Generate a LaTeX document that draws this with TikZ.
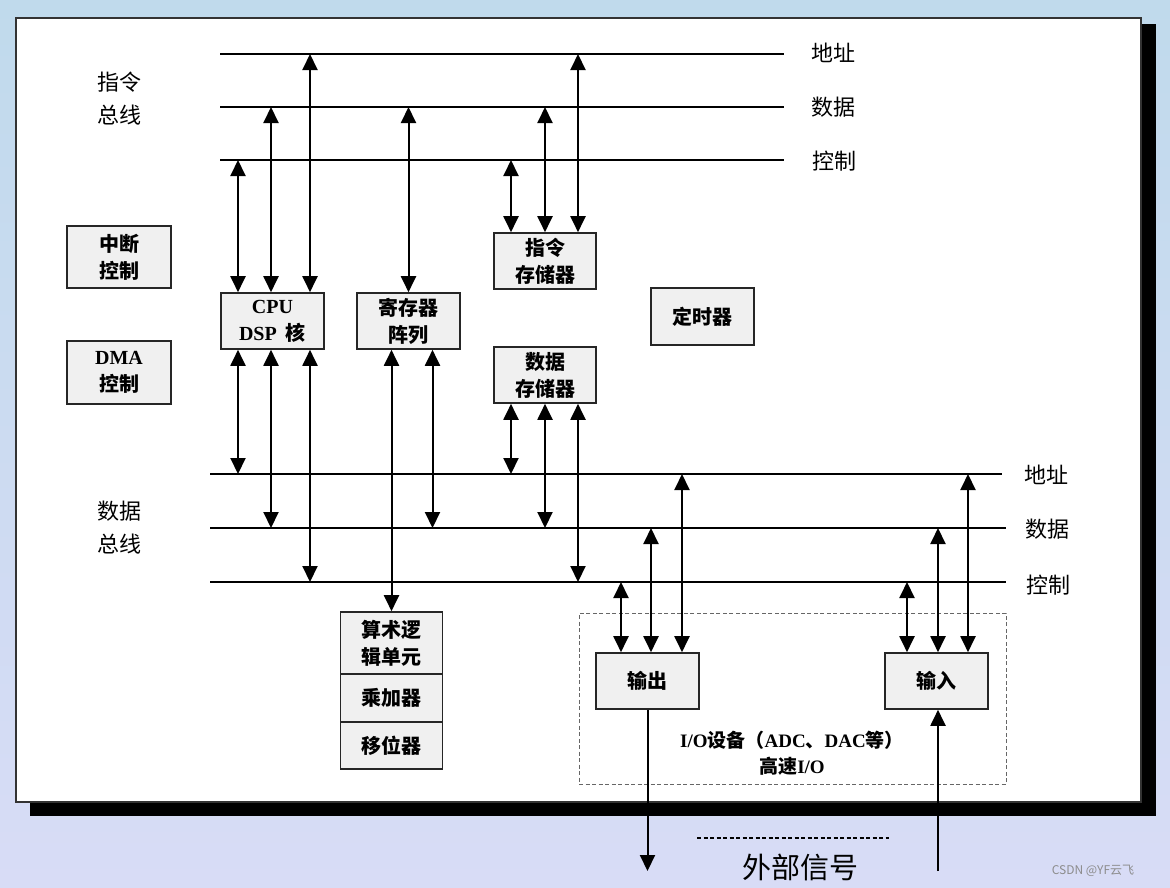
\documentclass[tikz,border=0pt]{standalone}
\usepackage{fontspec}
\setmainfont{Liberation Serif}
\newfontfamily\cjk{Noto Sans CJK SC}
\usetikzlibrary{arrows.meta,calc}
\definecolor{boxfill}{RGB}{240,240,240}
\definecolor{bgtop}{RGB}{192,218,236}
\definecolor{bgbot}{RGB}{216,220,246}
\begin{document}
\begin{tikzpicture}[x=1pt,y=-1pt,
  box/.style={draw=black!85, line width=1.6pt, fill=boxfill, align=center, inner sep=0pt,
    font=\cjk\bfseries\fontsize{20}{27}\selectfont},
  bus/.style={line width=2.4pt},
  bi/.style={line width=2pt, {Triangle[length=16pt,width=15pt]}-{Triangle[length=16pt,width=15pt]}},
  one/.style={line width=2pt, -{Triangle[length=16pt,width=15pt]}},
  lab/.style={font=\cjk\fontsize{22}{33}\selectfont, align=center, inner sep=0pt}
]
\useasboundingbox (0,0) rectangle (1170,887);
% background
\shade[top color=bgtop, bottom color=bgbot] (0,0) rectangle (1170,887);
% panel with shadow
\fill[black] (30,24) rectangle (1156,816);
\draw[fill=white, draw=black!80, line width=1.2pt] (16,18) rectangle (1141,802);

% bus coordinates
\coordinate (iA0) at (220,54);  \coordinate (iA1) at (784,54);
\coordinate (iD0) at (220,107); \coordinate (iD1) at (784,107);
\coordinate (iC0) at (220,160); \coordinate (iC1) at (784,160);
\coordinate (dA0) at (210,474); \coordinate (dA1) at (1002,474);
\coordinate (dD0) at (210,528); \coordinate (dD1) at (1006,528);
\coordinate (dC0) at (210,582); \coordinate (dC1) at (1006,582);
\foreach \b in {iA,iD,iC,dA,dD,dC} {\draw[bus] (\b0) -- (\b1);}

% bus labels
\node[lab] (liA) at (833,53) {地址};
\node[lab] (liD) at (833,107) {数据};
\node[lab] (liC) at (834,161) {控制};
\node[lab] (ldA) at (1046,475) {地址};
\node[lab] (ldD) at (1047,529) {数据};
\node[lab] (ldC) at (1048,585) {控制};
\node[lab] (ibus) at (119,99) {指令\\总线};
\node[lab] (dbus) at (119,528) {数据\\总线};

% boxes
\node[box, minimum width=104pt, minimum height=62pt] (intr) at (119,257) {中断\\控制};
\node[box, minimum width=104pt, minimum height=63pt] (dma) at (119,372.5) {{\rmfamily DMA}\\控制};
\node[box, minimum width=103pt, minimum height=56pt] (cpu) at (272.5,321) {{\rmfamily CPU}\\{\rmfamily DSP}\ \ 核};
\node[box, minimum width=103pt, minimum height=56pt] (reg) at (408.5,321) {寄存器\\阵列};
\node[box, minimum width=102pt, minimum height=56pt] (imem) at (545,261) {指令\\存储器};
\node[box, minimum width=103pt, minimum height=57pt] (timer) at (702.5,316.5) {定时器};
\node[box, minimum width=102pt, minimum height=56pt] (dmem) at (545,375) {数据\\存储器};
\node[box, minimum width=102pt, minimum height=62pt] (alu) at (391.5,643) {算术逻\\辑单元};
\node[box, minimum width=102pt, minimum height=48pt] (mac) at (391.5,698) {乘加器};
\node[box, minimum width=102pt, minimum height=47pt] (shf) at (391.5,745.5) {移位器};
\node[box, minimum width=103pt, minimum height=56pt] (out) at (647.5,681) {输出};
\node[box, minimum width=103pt, minimum height=56pt] (in) at (936.5,681) {输入};

% I/O dashed region
\node[draw=black!60, dash pattern=on 4pt off 2.5pt, line width=0.9pt,
      minimum width=427pt, minimum height=171pt, inner sep=0pt] (io) at (792.5,698.5) {};
\node[font=\cjk\bfseries\fontsize{19}{26}\selectfont, align=center, inner sep=0pt] (iotext) at (792,753)
  {{\rmfamily I/O}设备（{\rmfamily ADC}、{\rmfamily DAC}等）\\高速{\rmfamily I/O}};

% instruction-bus connections
\draw[bi] ([xshift=-34.5pt]cpu.north) -- ([xshift=-34.5pt]cpu.north |- iC0);
\draw[bi] ([xshift=-1.5pt]cpu.north) -- ([xshift=-1.5pt]cpu.north |- iD0);
\draw[bi] ([xshift=37.5pt]cpu.north) -- ([xshift=37.5pt]cpu.north |- iA0);
\draw[bi] (reg.north) -- (reg.north |- iD0);
\draw[bi] ([xshift=-34pt]imem.north) -- ([xshift=-34pt]imem.north |- iC0);
\draw[bi] (imem.north) -- (imem.north |- iD0);
\draw[bi] ([xshift=33pt]imem.north) -- ([xshift=33pt]imem.north |- iA0);

% data-bus connections
\draw[bi] ([xshift=-34.5pt]cpu.south) -- ([xshift=-34.5pt]cpu.south |- dA0);
\draw[bi] ([xshift=-1.5pt]cpu.south) -- ([xshift=-1.5pt]cpu.south |- dD0);
\draw[bi] ([xshift=37.5pt]cpu.south) -- ([xshift=37.5pt]cpu.south |- dC0);
\draw[bi] (alu.north |- reg.south) -- (alu.north);
\draw[bi] ([xshift=24pt]reg.south) -- ([xshift=24pt]reg.south |- dD0);
\draw[bi] ([xshift=-34pt]dmem.south) -- ([xshift=-34pt]dmem.south |- dA0);
\draw[bi] (dmem.south) -- (dmem.south |- dD0);
\draw[bi] ([xshift=33pt]dmem.south) -- ([xshift=33pt]dmem.south |- dC0);
\draw[bi] ([xshift=-26.5pt]out.north) -- ([xshift=-26.5pt]out.north |- dC0);
\draw[bi] ([xshift=3.5pt]out.north) -- ([xshift=3.5pt]out.north |- dD0);
\draw[bi] ([xshift=34.5pt]out.north) -- ([xshift=34.5pt]out.north |- dA0);
\draw[bi] ([xshift=-29.5pt]in.north) -- ([xshift=-29.5pt]in.north |- dC0);
\draw[bi] ([xshift=1.5pt]in.north) -- ([xshift=1.5pt]in.north |- dD0);
\draw[bi] ([xshift=31.5pt]in.north) -- ([xshift=31.5pt]in.north |- dA0);

% external signals
\coordinate (ext) at (0,871);
\coordinate (dl0) at (697,838);
\coordinate (dl1) at (889,838);
\draw[one] (out.south) -- (out.south |- ext);
\draw[one] ([xshift=1.5pt]in.south |- ext) -- ([xshift=1.5pt]in.south);
\draw[line width=1.5pt, dash pattern=on 4pt off 2.5pt] (dl0) -- (dl1);
\node[font=\cjk\fontsize{29}{30}\selectfont, inner sep=0pt] (extlab) at (800,867) {外部信号};
\node[font=\cjk\fontsize{12}{13}\selectfont, text=black!45, inner sep=0pt] (wm) at (1093,871) {CSDN @YF云飞};
\end{tikzpicture}
\end{document}
